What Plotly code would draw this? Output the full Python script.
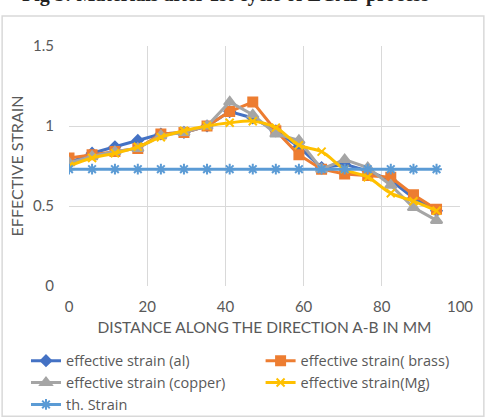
import plotly.graph_objects as go

distance = [0, 5.9, 11.75, 17.6, 23.5, 29.4, 35.3, 41.1, 47, 52.9, 58.8, 64.6, 70.5, 76.4, 82.3, 88.1, 94]
strain_al = [0.77, 0.83, 0.87, 0.91, 0.95, 0.96, 1.0, 1.09, 1.05, 0.97, 0.87, 0.74, 0.76, 0.72, 0.66, 0.55, 0.47]
strain_brass = [0.80, 0.82, 0.84, 0.86, 0.95, 0.96, 1.0, 1.09, 1.15, 0.97, 0.82, 0.73, 0.70, 0.69, 0.68, 0.57, 0.48]
strain_copper = [0.77, 0.81, 0.84, 0.86, 0.94, 0.96, 1.0, 1.15, 1.07, 0.95, 0.91, 0.73, 0.79, 0.74, 0.63, 0.49, 0.41]
strain_mg = [0.75, 0.80, 0.83, 0.87, 0.93, 0.97, 1.0, 1.02, 1.03, 0.99, 0.88, 0.84, 0.73, 0.68, 0.58, 0.53, 0.47]
th_strain = [0.73] * 17

x_ticks = [0, 20, 40, 60, 80, 100]
y_ticks = [0, 0.5, 1, 1.5]

names = ["effective strain (al)", "effective strain( brass)", "effective strain (copper)",
         "effective strain(Mg)", "th. Strain"]

FONT = "Lato"
TXT = "#595959"

fig = go.Figure()
specs = [
    (strain_al, names[0], "#4472C4", "diamond", 8, "linear", "legend", 1),
    (strain_brass, names[1], "#ED7D31", "square", 9, "linear", "legend2", 1),
    (strain_copper, names[2], "#A5A5A5", "triangle-up", 10, "linear", "legend", 2),
    (strain_mg, names[3], "#FFC000", "x-thin-open", 8, "spline", "legend2", 2),
    (th_strain, names[4], "#5B9BD5", "asterisk-open", 9, "linear", "legend", 3),
]
for ys, nm, col, sym, sz, shape, lg, rank in specs:
    fig.add_trace(go.Scatter(
        x=distance, y=ys, name=nm, mode="lines+markers",
        line=dict(color=col, width=3, shape=shape),
        marker=dict(symbol=sym, size=sz, color=col, line=dict(color=col, width=2)),
        legend=lg, legendrank=rank,
    ))

leg_common = dict(orientation="v", yanchor="top", y=-0.245, xanchor="left",
                  font=dict(family="Open Sans", size=14.5, color=TXT),
                  itemwidth=30, tracegroupgap=0, bgcolor="rgba(0,0,0,0)", borderwidth=0)

fig.update_layout(
    width=487, height=418,
    margin=dict(l=69, r=27, t=46, b=132, autoexpand=False),
    paper_bgcolor="white", plot_bgcolor="white",
    font=dict(family=FONT, size=15, color=TXT),
    showlegend=True,
    legend=dict(x=-0.11, **leg_common),
    legend2=dict(x=0.49, **leg_common),
    xaxis=dict(range=[0, 100], tickvals=x_ticks, showgrid=True, gridcolor="#D9D9D9",
               gridwidth=1, zeroline=False, showline=False, ticks="",
               ticklabelstandoff=10, tickfont=dict(family=FONT, size=15, color=TXT),
               title=dict(text="DISTANCE ALONG THE DIRECTION A-B IN MM", standoff=8,
                          font=dict(family=FONT, size=15.5, color=TXT))),
    yaxis=dict(range=[0, 1.5], tickvals=y_ticks, showgrid=True, gridcolor="#D9D9D9",
               gridwidth=1, zeroline=False, showline=False, ticks="",
               ticklabelstandoff=14, tickfont=dict(family=FONT, size=15, color=TXT),
               title=dict(text="EFFECTIVE STRAIN", standoff=5,
                          font=dict(family=FONT, size=16, color=TXT))),
    shapes=[dict(type="rect", xref="paper", yref="paper",
                 x0=-0.171, x1=1.061, y0=-0.543, y1=1.125,
                 line=dict(color="#D9D9D9", width=1.5), fillcolor="rgba(0,0,0,0)", layer="below")],
    annotations=[dict(text="<b>Fig 5: Materials after 1st cycle of ECAP process</b>",
                      xref="paper", yref="paper", x=0.40, y=1.215, yanchor="middle",
                      showarrow=False, font=dict(family="Liberation Serif", size=20, color="#222222"))],
)

fig.write_html("out.html")
